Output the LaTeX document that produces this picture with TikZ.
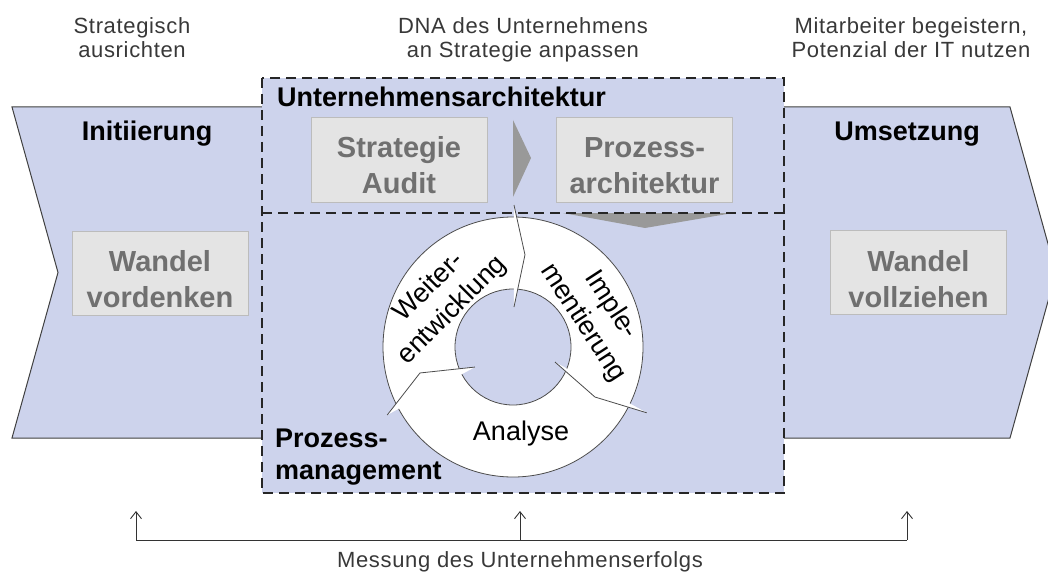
\documentclass[tikz,border=0pt]{standalone}
\usepackage{fontspec}
\setmainfont{Liberation Sans}
\usetikzlibrary{calc,arrows.meta}
\definecolor{phase}{RGB}{205,211,236}
\definecolor{boxgray}{RGB}{228,228,228}
\definecolor{boxline}{RGB}{188,188,188}
\definecolor{boxtext}{RGB}{112,112,112}
\definecolor{wedge}{RGB}{153,153,153}
\def\ringR{130}
\def\ringr{58}

\begin{document}
\begin{tikzpicture}[x=1pt,y=-1pt,
  graybox/.style={draw=boxline,line width=1pt,fill=boxgray,minimum width=176pt,minimum height=84pt,inner sep=0pt},
  graylabel/.style={text=boxtext,font=\fontsize{29}{36}\selectfont\bfseries,align=center,inner sep=0pt},
  phaselabel/.style={font=\fontsize{27}{32}\selectfont\bfseries,align=left,inner sep=0pt},
  toplabel/.style={text=black!78,font=\fontsize{22}{24}\selectfont\addfontfeature{LetterSpace=3},align=center,inner sep=0pt},
  ringlabel/.style={font=\fontsize{27}{33}\selectfont,align=center,inner sep=0pt},
  ringline/.style={draw=black!70,line width=0.8pt},
  dashbox/.style={draw=black!85,line width=1.8pt,dash pattern=on 10pt off 6pt},
  meas/.style={draw=black!80,line width=0.9pt}]
\useasboundingbox (0,0) rectangle (1048,572);

% phase arrow behind everything
\draw[draw=black!75,line width=1pt,fill=phase]
  (12,107) -- (1010,107) -- (1056,272.5) -- (1010,438) -- (12,438) -- (58,272.5) -- cycle;

% architecture / process management frame
\draw[dashbox,fill=phase] (262,78) rectangle (784,493);
\fill[wedge] (563,213) -- (733,213) -- (645,228) -- cycle;
\draw[dashbox] (262,213) -- (784,213);

% labels above
\node[toplabel] (ausrichten) at (132,38) {Strategisch\\ausrichten};
\node[toplabel] (anpassen) at (523,40) {DNA des Unternehmens\\an Strategie anpassen};
\node[toplabel] (nutzen) at (911,38) {Mitarbeiter begeistern,\\Potenzial der IT nutzen};

% phases
\node[phaselabel,anchor=base] (init) at (147,141) {Initiierung};
\node[phaselabel,anchor=base] (umsetz) at (907,141) {Umsetzung};
\node[phaselabel,anchor=base west] (ua) at (277,107) {Unternehmensarchitektur};
\node[phaselabel,anchor=west] (pm) at (275,457) {Prozess-\\management};

% gray activity boxes
\node[graybox] (vordenken) at (160,273) {};
\node[graybox] (vollziehen) at (918.5,272) {};
\node[graybox] (audit) at (399,160) {};
\node[graybox] (parch) at (644.5,160) {};
\node[graylabel] (vordenkentxt) at (160,279) {Wandel\\vordenken};
\node[graylabel] (vollziehentxt) at (918.5,279) {Wandel\\vollziehen};
\node[graylabel] (audittxt) at (399,165.5) {Strategie\\Audit};
\node[graylabel] (parchtxt) at (644.5,166) {Prozess-\\architektur};
\fill[wedge] (513,120) -- (531,158) -- (513,197) -- cycle;

% cycle ring
\coordinate (ring) at (513,347);
\fill[white,even odd rule] (ring) circle (\ringR pt) (ring) circle (\ringr pt);
\draw[ringline] (ring) circle (\ringR pt);
\draw[ringline] (ring) circle (\ringr pt);
\foreach \ao/\ro/\at/\rt/\ai/\ri in {-89.6/142/-82.6/93/-88.6/40,
                                     26.2/149/31.4/96/19.7/44.6,
                                     -208.4/143/-195.6/96.6/-207.8/43} {
  \fill[white] ($(ring)+(\ao:\ro)$) -- ($(ring)+(\at:\rt)$) -- ($(ring)+(\ai:\ri)$) -- cycle;
  \draw[ringline] ($(ring)+(\ao:\ro)$) -- ($(ring)+(\at:\rt)$) -- ($(ring)+(\ai:\ri)$);
}
\node[ringlabel,rotate=45] (weiter) at (441,299) {Weiter-\\entwicklung};
\node[ringlabel,rotate=-57] (imple) at (597,314) {Imple-\\mentierung};
\node[ringlabel] (analyse) at (521,433.5) {Analyse};

% measurement bracket
\coordinate (mleft) at (136,540);
\coordinate (mmid) at (520,540);
\coordinate (mright) at (907,540);
\draw[meas] (mleft) -- (mright);
\foreach \c in {mleft,mmid,mright} {
  \coordinate (\c top) at ($(\c)+(0,-29)$);
  \draw[meas,-{Straight Barb[length=7pt,width=11pt]}] (\c) -- (\c top);
}
\node[toplabel,anchor=base] (messung) at (520,567) {Messung des Unternehmenserfolgs};
\end{tikzpicture}
\end{document}
